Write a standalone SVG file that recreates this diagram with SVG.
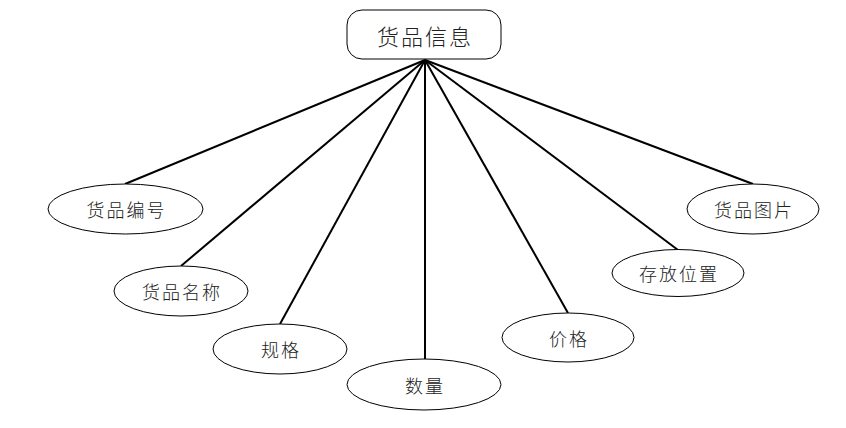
<svg xmlns="http://www.w3.org/2000/svg" width="846" height="428" viewBox="0 0 846 428">
<style>
.n{fill:#fff;stroke:#000;stroke-width:1}
.t{font-family:"Noto Sans CJK SC","Liberation Sans",sans-serif;font-size:18px;font-weight:300;letter-spacing:2px;fill:#222;text-anchor:middle;dominant-baseline:central}
.e{stroke:#000;stroke-width:2;fill:none}
</style>
<rect width="846" height="428" fill="#fff"/>
<g id="connectors">
<line class="e" x1="425" y1="60" x2="125" y2="184"/>
<line class="e" x1="425" y1="60" x2="181" y2="266"/>
<line class="e" x1="425" y1="60" x2="280" y2="324"/>
<line class="e" x1="425" y1="60" x2="425" y2="359"/>
<line class="e" x1="425" y1="60" x2="568" y2="313"/>
<line class="e" x1="425" y1="60" x2="678" y2="250"/>
<line class="e" x1="425" y1="60" x2="753" y2="184"/>
</g>
<g id="root">
<rect class="n" x="347" y="10" width="154" height="49" rx="15"/>
<text class="t" x="425" y="35" style="font-size:22px">货品信息</text>
</g>
<g id="n1">
<ellipse class="n" cx="125.5" cy="209" rx="77.5" ry="25"/>
<text class="t" x="126.5" y="209">货品编号</text>
</g>
<g id="n2">
<ellipse class="n" cx="181" cy="291" rx="67" ry="25"/>
<text class="t" x="182" y="291">货品名称</text>
</g>
<g id="n3">
<ellipse class="n" cx="280" cy="349" rx="67" ry="25"/>
<text class="t" x="281" y="349">规格</text>
</g>
<g id="n4">
<ellipse class="n" cx="424" cy="384.5" rx="77" ry="25.5"/>
<text class="t" x="425" y="384.5">数量</text>
</g>
<g id="n5">
<ellipse class="n" cx="568" cy="337.5" rx="66" ry="24.5"/>
<text class="t" x="569" y="337.5">价格</text>
</g>
<g id="n6">
<ellipse class="n" cx="678" cy="273" rx="66" ry="23.5"/>
<text class="t" x="679" y="273">存放位置</text>
</g>
<g id="n7">
<ellipse class="n" cx="753" cy="209" rx="66" ry="25"/>
<text class="t" x="754" y="209">货品图片</text>
</g>
</svg>
